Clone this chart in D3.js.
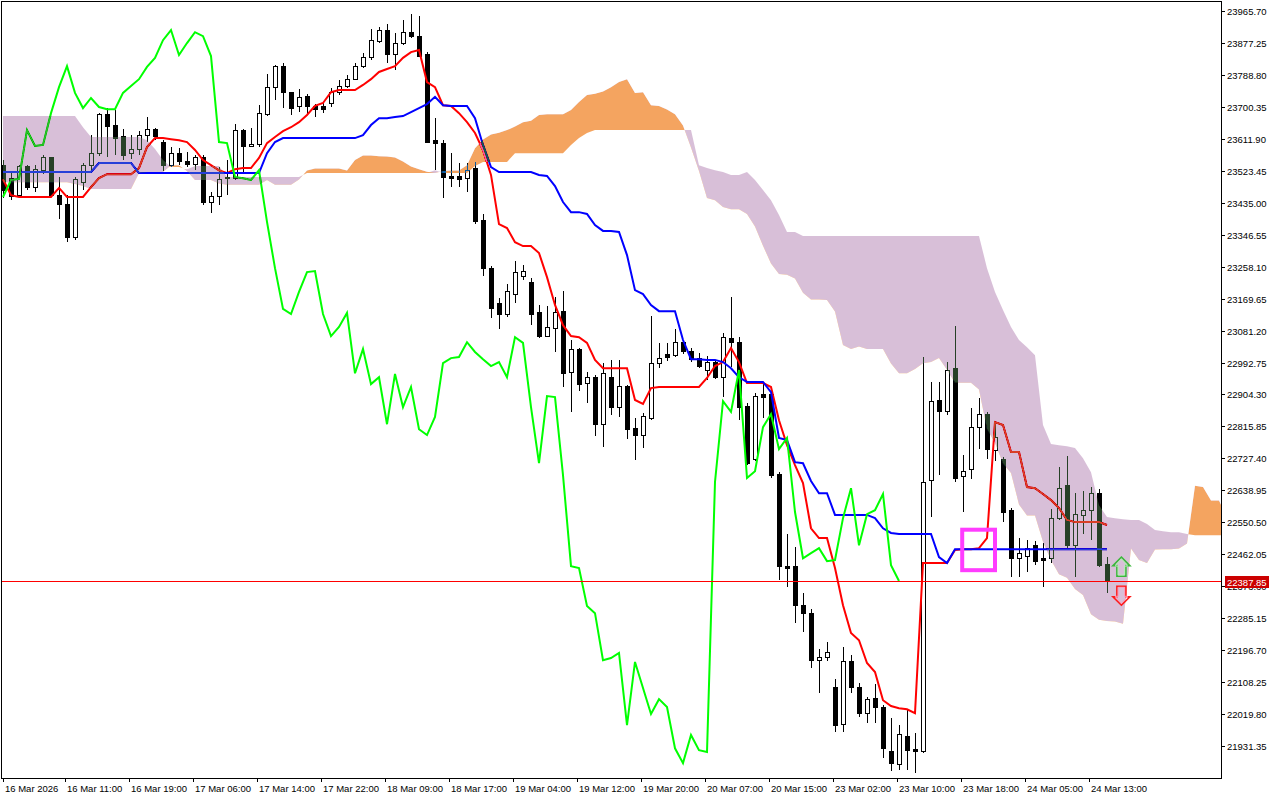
<!DOCTYPE html>
<html>
<head>
<meta charset="utf-8">
<title>Ichimoku chart</title>
<script src="https://cdn.jsdelivr.net/npm/d3@7/dist/d3.min.js"></script>
<style>
  html, body { margin: 0; padding: 0; background: #fff; }
  svg { display: block; }
  .lbl { font-family: "Liberation Sans", Arial, sans-serif; font-size: 9.5px; fill: #000; }
</style>
</head>
<body>
<svg id="chart" width="1280" height="800"></svg>
<script>
// ---- data ----
var DATE_LABELS = ["16 Mar 2026","16 Mar 11:00","16 Mar 19:00","17 Mar 06:00","17 Mar 14:00","17 Mar 22:00",
  "18 Mar 09:00","18 Mar 17:00","19 Mar 04:00","19 Mar 12:00","19 Mar 20:00","20 Mar 07:00","20 Mar 15:00",
  "23 Mar 02:00","23 Mar 10:00","23 Mar 18:00","24 Mar 05:00","24 Mar 13:00"];
var LABEL_EVERY = 8;

var PRICE_TICKS = [23965.70,23877.25,23788.80,23700.35,23611.90,23523.45,23435.00,23346.55,23258.10,23169.65,
  23081.20,22992.75,22904.30,22815.85,22727.40,22638.95,22550.50,22462.05,22373.60,22285.15,22196.70,
  22108.25,22019.80,21931.35];

var OPEN = [23539,23503,23456,23534,23476,23525,23559,23456,23431,23340,
  23492,23537,23572,23678,23650,23617,23572,23581,23620,23639,
  23603,23539,23572,23550,23542,23561,23437,23451,23506,23503,
  23636,23592,23595,23680,23755,23813,23739,23700,23730,23700,
  23700,23711,23739,23758,23777,23811,23836,23880,23913,23844,
  23877,23907,23896,23844,23606,23600,23509,23509,23501,23531,
  23387,23254,23155,23127,23182,23232,23215,23130,23066,23088,
  23135,22966,23030,22936,22950,22822,22952,22869,22925,22811,
  22792,22839,22991,23016,23013,23049,23024,23005,22972,22994,
  22952,23060,23049,22872,22725,22903,22903,22684,22427,22427,
  22321,22299,22169,22175,22094,21992,22164,22092,22020,22064,
  22039,21917,21881,21959,21923,21917,22667,22889,22856,22977,
  22676,22698,22814,22850,22748,22725,22584,22451,22457,22485,
  22449,22449,22562,22651,22487,22570,22584,22629,22435];
var HIGH = [23553,23520,23539,23539,23539,23567,23561,23506,23456,23506,
  23545,23622,23683,23697,23692,23639,23622,23633,23672,23642,
  23608,23589,23586,23575,23567,23567,23465,23534,23553,23653,
  23639,23642,23705,23791,23816,23822,23741,23750,23736,23708,
  23711,23752,23775,23788,23822,23849,23916,23921,23930,23905,
  23941,23957,23952,23852,23669,23608,23572,23545,23545,23548,
  23404,23260,23171,23210,23274,23262,23226,23152,23149,23174,
  23190,23055,23033,22966,22958,22991,23000,23000,22930,22839,
  22853,23121,23047,23047,23085,23055,23033,23019,23011,23000,
  23074,23174,23063,22880,22908,22936,22908,22689,22518,22482,
  22355,22310,22200,22219,22117,22205,22183,22106,22067,22103,
  22045,22009,21989,22031,21967,23008,22939,22939,22994,23094,
  22737,22867,22894,22856,22828,22731,22590,22507,22501,22498,
  22493,22587,22703,22734,22631,22637,22648,22642,22454];
var LOW = [23448,23442,23448,23470,23465,23514,23451,23390,23326,23332,
  23470,23525,23564,23561,23567,23553,23556,23567,23603,23608,
  23523,23534,23539,23534,23525,23429,23406,23429,23456,23498,
  23517,23589,23589,23675,23719,23697,23678,23686,23678,23672,
  23683,23700,23733,23752,23775,23808,23830,23877,23822,23802,
  23871,23891,23838,23600,23525,23448,23478,23478,23465,23376,
  23232,23116,23085,23118,23157,23221,23096,23060,23063,23022,
  22925,22856,22914,22880,22789,22759,22847,22842,22781,22723,
  22756,22833,22977,22997,23008,23016,22994,22977,22944,22947,
  22897,22980,22833,22709,22720,22839,22673,22391,22371,22272,
  22247,22147,22078,22166,21970,21970,22078,22011,21995,21995,
  21898,21862,21865,21865,21856,21912,22565,22681,22847,22662,
  22579,22670,22753,22725,22720,22551,22399,22399,22413,22432,
  22371,22438,22557,22479,22399,22518,22501,22427,22355];
var CLOSE = [23470,23451,23534,23476,23528,23559,23456,23429,23340,23498,
  23537,23572,23678,23647,23614,23567,23581,23622,23639,23617,
  23539,23572,23550,23542,23559,23437,23451,23498,23501,23636,
  23592,23595,23683,23755,23813,23739,23697,23725,23700,23694,
  23694,23739,23758,23777,23811,23836,23885,23913,23844,23877,
  23907,23896,23841,23603,23600,23506,23503,23498,23525,23382,
  23254,23141,23127,23188,23243,23246,23127,23066,23091,23130,
  22963,23030,22933,22952,22822,22961,22869,22925,22808,22792,
  22842,22991,23005,23008,23049,23022,23002,22983,22994,22952,
  23063,23047,22869,22714,22900,22897,22681,22429,22424,22319,
  22299,22169,22175,22189,21989,22164,22092,22020,22061,22039,
  21925,21884,21962,21920,21915,22662,22886,22856,22972,22673,
  22692,22814,22850,22753,22784,22579,22451,22465,22479,22443,
  22446,22562,22645,22487,22573,22584,22629,22432,22387.85];

var TENKAN = [23500,23456,23451,23451,23451,23451,23451,23476,23451,23451,
  23451,23478,23503,23514,23514,23514,23514,23531,23589,23614,
  23614,23611,23608,23603,23581,23553,23539,23525,23517,23528,
  23531,23531,23559,23600,23617,23633,23644,23658,23678,23703,
  23711,23741,23747,23747,23747,23761,23777,23797,23805,23813,
  23836,23852,23858,23769,23755,23705,23703,23683,23658,23628,
  23581,23512,23376,23365,23326,23315,23315,23296,23229,23152,
  23096,23066,23063,23047,23000,22977,22977,22977,22977,22889,
  22878,22922,22925,22925,22925,22925,22925,22925,22950,22983,
  22994,23033,22994,22936,22936,22936,22925,22833,22764,22709,
  22659,22534,22507,22507,22424,22321,22244,22224,22161,22136,
  22058,22042,22036,22033,22022,22438,22438,22438,22438,22474,
  22476,22476,22479,22507,22828,22820,22745,22745,22648,22645,
  22629,22612,22590,22557,22551,22551,22551,22551,22543];
var KIJUN = [23520,23520,23520,23520,23520,23520,23520,23520,23520,23520,
  23520,23520,23545,23545,23545,23545,23545,23517,23517,23517,
  23517,23517,23517,23517,23517,23517,23517,23517,23517,23517,
  23517,23517,23517,23572,23603,23614,23614,23614,23614,23614,
  23614,23614,23614,23614,23614,23622,23650,23669,23669,23672,
  23675,23686,23697,23708,23728,23705,23703,23703,23703,23669,
  23595,23534,23520,23520,23520,23520,23520,23512,23509,23481,
  23437,23409,23409,23404,23373,23357,23357,23354,23290,23193,
  23182,23152,23135,23135,23135,23055,23002,23002,23000,23000,
  22994,22977,22952,22939,22939,22939,22911,22784,22778,22717,
  22714,22665,22631,22631,22571,22571,22571,22571,22571,22562,
  22534,22521,22518,22518,22518,22518,22518,22454,22438,22476,
  22476,22476,22476,22476,22476,22476,22476,22476,22476,22476,
  22476,22476,22476,22476,22476,22476,22476,22476,22476];
var CHIKOU_SHIFT = 26;   // lagging span = close drawn 26 bars back

// senkou spans, already shifted forward (one value per bar slot, runs past the last candle)
var SPAN_A = [23492,23492,23492,23492,23492,23492,23492,23492,23492,23487,
  23481,23473,23473,23473,23473,23473,23473,23517,23520,23520,
  23520,23539,23539,23523,23498,23498,23498,23488,23485,23485,
  23485,23485,23485,23498,23485,23485,23485,23499,23524,23530,
  23530,23530,23530,23524,23553,23566,23566,23564,23563,23560,
  23549,23535,23528,23521,23517,23523,23524,23524,23539,23586,
  23610,23624,23629,23636,23646,23658,23662,23678,23680,23680,
  23680,23692,23714,23733,23737,23743,23755,23769,23777,23739,
  23741,23705,23703,23693,23680,23649,23588,23523,23448,23442,
  23423,23417,23417,23404,23369,23316,23267,23238,23236,23225,
  23186,23167,23167,23166,23134,23041,23030,23037,23030,23030,
  23030,22990,22963,22963,22975,22991,22994,23005,22973,22937,
  22937,22937,22918,22809,22771,22713,22687,22600,22569,22569,
  22497,22446,22407,22397,22366,22349,22296,22281,22277,22276,
  22270,22478,22446,22438,22475,22476,22476,22478,22492,22652,
  22648,22611,22611,22562];
var SPAN_B = [23675,23675,23675,23675,23675,23675,23675,23675,23675,23675,
  23644,23617,23617,23617,23617,23617,23617,23617,23608,23584,
  23553,23534,23534,23528,23537,23537,23537,23537,23506,23506,
  23506,23506,23506,23506,23506,23506,23506,23506,23517,23517,
  23517,23517,23517,23517,23517,23517,23517,23517,23517,23517,
  23517,23517,23517,23517,23525,23517,23517,23517,23517,23537,
  23548,23548,23548,23548,23572,23572,23572,23572,23572,23572,
  23572,23595,23614,23628,23636,23636,23636,23636,23636,23636,
  23636,23636,23636,23636,23636,23636,23636,23539,23531,23525,
  23520,23512,23512,23520,23498,23470,23442,23401,23354,23354,
  23343,23343,23343,23343,23343,23343,23343,23343,23343,23343,
  23343,23343,23343,23343,23343,23343,23343,23343,23343,23343,
  23343,23343,23343,23254,23188,23138,23091,23055,23035,23013,
  22820,22767,22764,22761,22756,22728,22689,22598,22565,22562,
  22559,22557,22557,22546,22529,22526,22523,22523,22518,22515,
  22515,22515,22515,22515];

// drawn objects on the chart
var MARK_BOX = {fromBar: 119.9, toBar: 124.0, top: 22530, bottom: 22418};
var ARROWS = [{bar: 139.8, price: 22454, dir: "up"}, {bar: 139.8, price: 22321, dir: "down"}];

// ---- layout ----
var W = 1280, H = 800;
var plotL = 2, plotT = 2, plotR = 1221, plotB = 778;

var x = d3.scaleLinear().domain([0, CLOSE.length - 1]).range([3, 1107]);
var y = d3.scaleLinear().domain([21931.35, 23965.70]).range([746, 11]);

var svg = d3.select("#chart");
svg.append("rect").attr("width", W).attr("height", H).attr("fill", "#fff");

var defs = svg.append("defs");
defs.append("clipPath").attr("id", "plot-clip").append("rect")
    .attr("x", plotL).attr("y", plotT)
    .attr("width", plotR - plotL).attr("height", plotB - plotT);

var plot = svg.append("g").attr("clip-path", "url(#plot-clip)");
plot.append("rect").attr("x", 0).attr("y", 0).attr("width", W).attr("height", H).attr("fill", "#fff");

// candles
var candles = OPEN.map(function (o, i) {
    return {i: i, o: o, h: HIGH[i], l: LOW[i], c: CLOSE[i]};
});
var cg = plot.append("g").attr("shape-rendering", "crispEdges");
cg.selectAll("line")
    .data(candles)
    .join("line")
    .attr("x1", function (d) { return x(d.i) + 0.5; })
    .attr("x2", function (d) { return x(d.i) + 0.5; })
    .attr("y1", function (d) { return y(d.h); })
    .attr("y2", function (d) { return y(d.l); })
    .attr("stroke", "#000");
cg.selectAll("rect")
    .data(candles)
    .join("rect")
    .attr("x", function (d) { return x(d.i) - 1.5; })
    .attr("width", 4)
    .attr("y", function (d) { return y(Math.max(d.o, d.c)); })
    .attr("height", function (d) { return Math.max(0.5, Math.abs(y(d.o) - y(d.c))); })
    .attr("fill", function (d) { return d.c >= d.o ? "#fff" : "#000"; })
    .attr("stroke", "#000");

// ichimoku lines
var line = d3.line()
    .x(function (d) { return x(d[0]); })
    .y(function (d) { return y(d[1]); });
function pts(arr, shift) {
    return arr.map(function (v, i) { return [i - (shift || 0), v]; });
}
var chikou = pts(CLOSE, CHIKOU_SHIFT).filter(function (d) { return d[0] >= 0; });

plot.append("path").attr("d", line(pts(TENKAN)))
    .attr("fill", "none").attr("stroke", "#ff0000").attr("stroke-width", 2);
plot.append("path").attr("d", line(pts(KIJUN)))
    .attr("fill", "none").attr("stroke", "#0000ff").attr("stroke-width", 2);
plot.append("path").attr("d", line(chikou))
    .attr("fill", "none").attr("stroke", "#00ff00").attr("stroke-width", 2);

// kumo: painted as a colour inversion over everything under it
var cloud = SPAN_A.map(function (a, i) { return {i: i, a: a, b: SPAN_B[i]}; });
var between = d3.area()
    .x(function (d) { return x(d.i); })
    .y0(function (d) { return y(d.a); })
    .y1(function (d) { return y(d.b); });
defs.append("clipPath").attr("id", "below-a").append("path")
    .attr("d", d3.area().x(function (d) { return x(d.i); })
        .y0(function (d) { return y(d.a); }).y1(H)(cloud));
defs.append("clipPath").attr("id", "above-a").append("path")
    .attr("d", d3.area().x(function (d) { return x(d.i); })
        .y0(0).y1(function (d) { return y(d.a); })(cloud));

plot.append("path").attr("d", between(cloud))
    .attr("fill", "#0b5b9f")              // inverse of sandybrown
    .attr("clip-path", "url(#below-a)")
    .style("mix-blend-mode", "difference");
plot.append("path").attr("d", between(cloud))
    .attr("fill", "#274027")              // inverse of thistle
    .attr("clip-path", "url(#above-a)")
    .style("mix-blend-mode", "difference");

// current price line (drawn outside the blended group so it stays red)
var last = CLOSE[CLOSE.length - 1];
var yLast = Math.round(y(last)) + 0.5;
svg.append("line")
    .attr("x1", plotL).attr("x2", plotR)
    .attr("y1", yLast).attr("y2", yLast)
    .attr("stroke", "#ff0000").attr("stroke-width", 1)
    .attr("shape-rendering", "crispEdges");

var marks = svg.append("g").attr("clip-path", "url(#plot-clip)");

// marked rectangle
marks.append("rect")
    .attr("x", x(MARK_BOX.fromBar))
    .attr("y", y(MARK_BOX.top))
    .attr("width", x(MARK_BOX.toBar) - x(MARK_BOX.fromBar))
    .attr("height", y(MARK_BOX.bottom) - y(MARK_BOX.top))
    .attr("fill", "none").attr("stroke", "#ff3cff").attr("stroke-width", 4);

// buy / sell arrows
function arrowPath(s) {
    var p = [[0, 0], [8.5, 8.5], [4.5, 8.5], [4.5, 19], [-4.5, 19], [-4.5, 8.5], [-8.5, 8.5]];
    return "M" + p.map(function (q) { return q[0] * s[0] + "," + q[1] * s[1]; }).join("L") + "Z";
}
ARROWS.forEach(function (a) {
    var g = marks.append("g")
        .attr("transform", "translate(" + x(a.bar) + "," + y(a.price) + ")");
    var up = a.dir === "up";
    var sy = up ? 1 : -1;
    g.append("path").attr("d", arrowPath([1, sy]))
        .attr("fill", "none").attr("stroke", up ? "#3cb83c" : "#ff1a1a").attr("stroke-width", 1.6);
    g.append("path").attr("d", arrowPath([0.72, sy * 0.86]))
        .attr("transform", "translate(0," + (sy * 1.6) + ")")
        .attr("fill", "none").attr("stroke", up ? "#b4f0b4" : "#ff9ab8").attr("stroke-width", 1);
});

// ---- frame and axes ----
svg.append("rect")
    .attr("x", plotL - 0.5).attr("y", plotT - 0.5)
    .attr("width", plotR - plotL + 0.5).attr("height", plotB - plotT + 0.5)
    .attr("fill", "none").attr("stroke", "#000").attr("shape-rendering", "crispEdges");

var ya = svg.append("g").attr("shape-rendering", "crispEdges");
PRICE_TICKS.forEach(function (p) {
    var yy = Math.round(y(p)) + 0.5;
    ya.append("line").attr("x1", plotR).attr("x2", plotR + 4)
        .attr("y1", yy).attr("y2", yy).attr("stroke", "#000");
    ya.append("text").attr("class", "lbl")
        .attr("x", plotR + 6).attr("y", yy + 3.5).text(p.toFixed(2));
});

// current price tag (covers the tick label underneath, as in the terminal)
var tag = svg.append("g");
tag.append("rect").attr("x", plotR + 4).attr("y", yLast - 5.5)
    .attr("width", 44).attr("height", 12).attr("fill", "#cc0000");
tag.append("text").attr("class", "lbl").style("fill", "#fff")
    .attr("x", plotR + 6).attr("y", yLast + 4).text(last.toFixed(2));

var xa = svg.append("g").attr("shape-rendering", "crispEdges");
DATE_LABELS.forEach(function (t, k) {
    var xx = Math.round(x(k * LABEL_EVERY)) - 1.5;
    if (k === 0) xx = 3.5;
    xa.append("line").attr("x1", xx).attr("x2", xx)
        .attr("y1", plotB).attr("y2", plotB + 4).attr("stroke", "#000");
    xa.append("text").attr("class", "lbl")
        .attr("x", xx + 1.5).attr("y", plotB + 14).text(t);
});
</script>
</body>
</html>
